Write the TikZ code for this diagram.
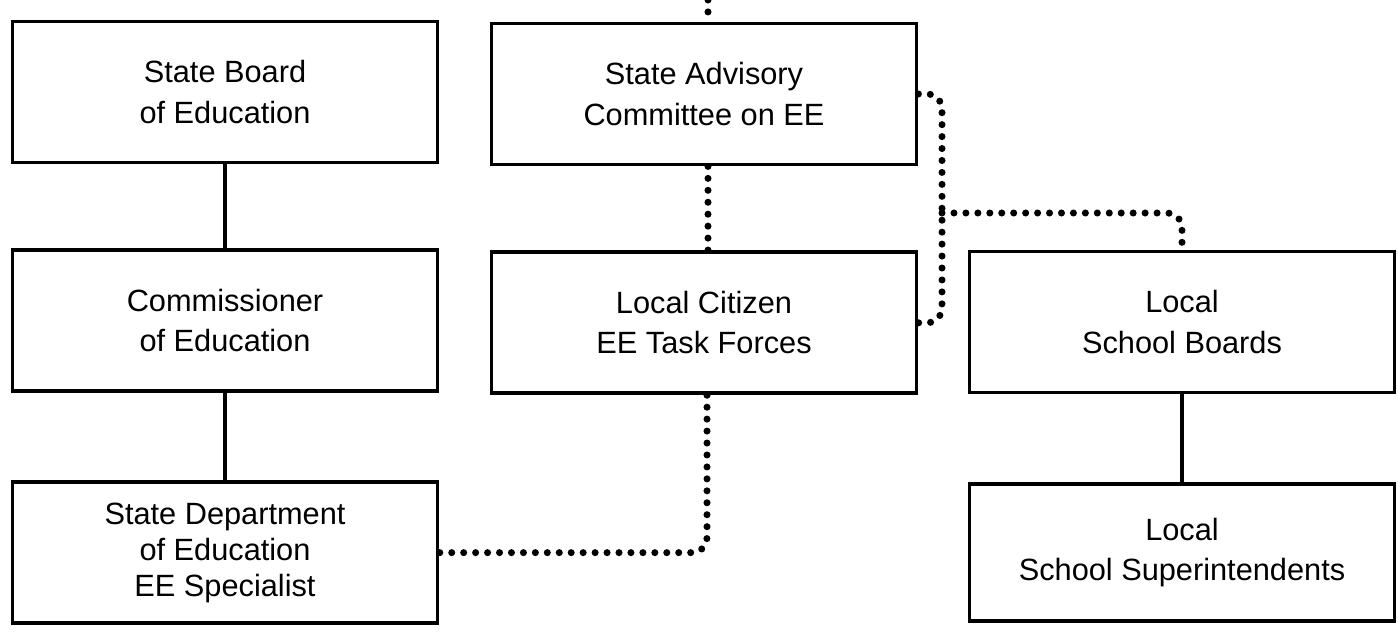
\documentclass[tikz,border=0pt]{standalone}
\usepackage{fontspec}
\setmainfont{Liberation Sans}
\usetikzlibrary{positioning}
\begin{document}
\begin{tikzpicture}[
    x=0.02cm, y=-0.02cm,
    node distance=1.68cm,
    box/.style={draw, line width=2.2pt, minimum width=8.5cm, minimum height=2.82cm,
      align=center, font=\fontsize{17.5}{22.8}\selectfont},
    solidlink/.style={line width=2.4pt},
    dotlink/.style={line width=4pt, line cap=round, dash pattern=on 0pt off 6.8pt,
      rounded corners=0.3cm},
  ]
  \useasboundingbox (0,0) rectangle (1398,634);
  % state line
  \node[box] (board) at (225,92) {State Board\\of Education};
  \node[box, below=of board] (commissioner) {Commissioner\\of Education};
  \node[box, below=1.74cm of commissioner, font=\fontsize{17.5}{20.5}\selectfont] (specialist) {State Department\\of Education\\EE Specialist};
  % advisory line
  \node[box] (advisory) at (704,94) {State Advisory\\Committee on EE};
  \node[box, below=of advisory] (citizen) {Local Citizen\\EE Task Forces};
  % local line
  \node[box] (schoolboards) at (1182,322) {Local\\School Boards};
  \node[box, below=1.76cm of schoolboards, minimum height=2.74cm] (superintendents) {Local\\School Superintendents};

  \draw[solidlink] (board) -- (commissioner);
  \draw[solidlink] (commissioner) -- (specialist);
  \draw[solidlink] (schoolboards) -- (superintendents);

  \coordinate (feed) at (708,0);
  \coordinate (junction) at (942,213);
  \coordinate (drop) at (707,0);
  \draw[dotlink] (feed) -- (feed |- advisory.north);
  \draw[dotlink] (feed |- advisory.south) -- (feed |- citizen.north);
  \draw[dotlink] (drop |- citizen.south) |- (specialist.east);
  \draw[dotlink] (advisory.east) -| (junction |- citizen.east) -- (citizen.east);
  \draw[dotlink] (junction) -| (schoolboards.north);
\end{tikzpicture}
\end{document}
